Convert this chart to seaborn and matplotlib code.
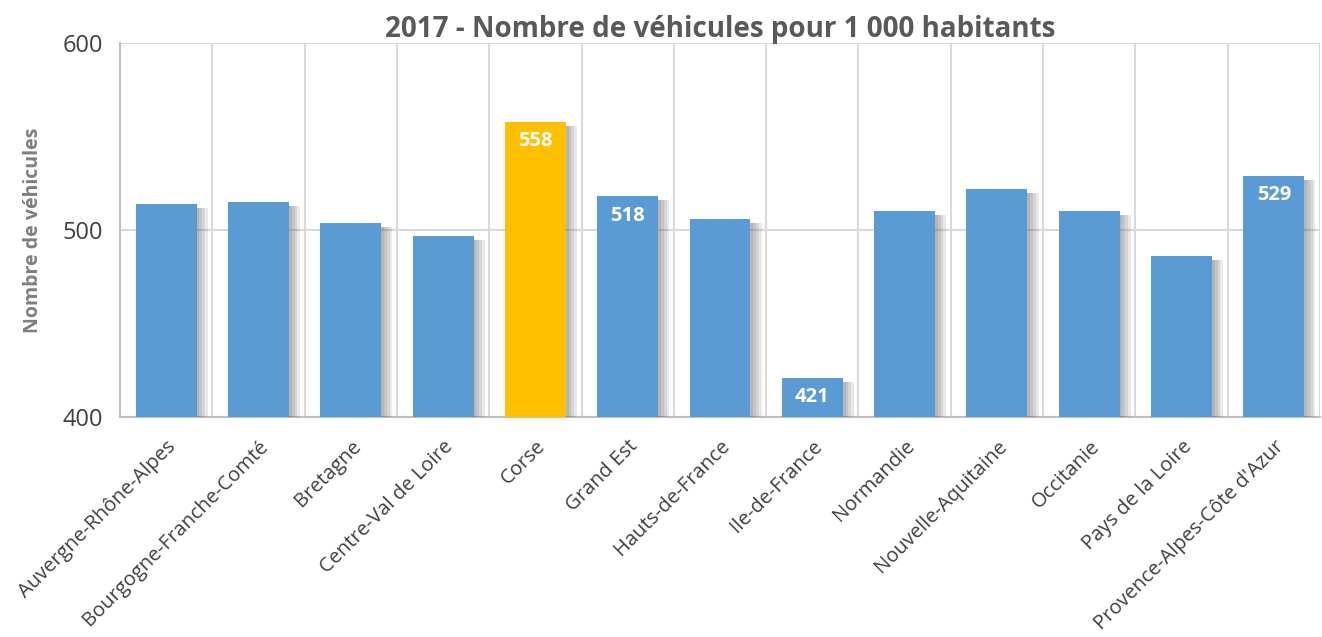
import numpy as np
import pandas as pd
import seaborn as sns
import matplotlib.pyplot as plt
import matplotlib.patheffects as pe

regions = ["Auvergne-Rhône-Alpes", "Bourgogne-Franche-Comté", "Bretagne", "Centre-Val de Loire",
           "Corse", "Grand Est", "Hauts-de-France", "Ile-de-France", "Normandie",
           "Nouvelle-Aquitaine", "Occitanie", "Pays de la Loire", "Provence-Alpes-Côte d'Azur"]
vehicules = [514, 515, 504, 497, 558, 518, 506, 421, 510, 522, 510, 486, 529]
labelled = ["Corse", "Grand Est", "Ile-de-France", "Provence-Alpes-Côte d'Azur"]
highlight = "Corse"

df = pd.DataFrame({"region": regions, "n": vehicules})
df["grp"] = np.where(df["region"] == highlight, "hi", "std")

sns.set_style("white")
plt.rcParams['font.family'] = ['Open Sans', 'DejaVu Sans']

fig = plt.figure(figsize=(13.22, 6.37), dpi=100)
ax = fig.add_axes([0.0908, 0.3454, 0.9077, 0.5871])

sns.barplot(data=df, x="region", y="n", hue="grp", palette={"hi": "#FFC000", "std": "#5B9BD5"},
            saturation=1, dodge=False, width=0.66, legend=False, linewidth=0, ax=ax, zorder=3)

# soft shadow to the right of each bar
shadow = [pe.SimplePatchShadow(offset=(d, -3), shadow_rgbFace="#555555", alpha=0.13) for d in (2, 4, 6, 8)]
for p in ax.patches:
    p.set_path_effects(shadow + [pe.Normal()])

ax.set_ylim(400, 600)
ax.set_xlim(-0.5, len(regions) - 0.5)
ax.set_yticks([400, 500, 600])
ax.yaxis.grid(True, color="#D9D9D9", lw=1.5, zorder=0)
ax.set_xticks(np.arange(-0.5, len(regions)), minor=True)
ax.xaxis.grid(True, which="minor", color="#D9D9D9", lw=1.5, zorder=0)
ax.set_axisbelow(True)

ax.tick_params(axis="x", which="major", length=0, pad=14)
ax.tick_params(axis="x", which="minor", length=7, color="#BFBFBF", width=1.5, direction="out")
ax.tick_params(axis="y", length=7, color="#BFBFBF", width=1.5, direction="out", labelsize=17,
               labelcolor="#404040", pad=5)
ax.set_xticks(range(len(regions)))
ax.set_xticklabels(regions, rotation=45, ha="right", rotation_mode="anchor", fontsize=14.5,
                   color="#404040")

for s in ["top", "right"]:
    ax.spines[s].set_visible(False)
for s in ["left", "bottom"]:
    ax.spines[s].set_color("#BFBFBF")
    ax.spines[s].set_linewidth(1.5)

for i, (r, v) in enumerate(zip(regions, vehicules)):
    if r in labelled:
        ax.text(i, v - 5, str(v), ha="center", va="top", color="white", fontsize=14.5, fontweight="bold",
                zorder=5)

ax.set_xlabel("")
ax.set_ylabel("Nombre de véhicules", fontsize=14, fontweight="bold", color="#7f7f7f", labelpad=14)
ax.set_title("2017 - Nombre de véhicules pour 1 000 habitants", fontsize=20, fontweight="bold",
             color="#595959", pad=4)

fig.savefig("out.png", dpi=100)
